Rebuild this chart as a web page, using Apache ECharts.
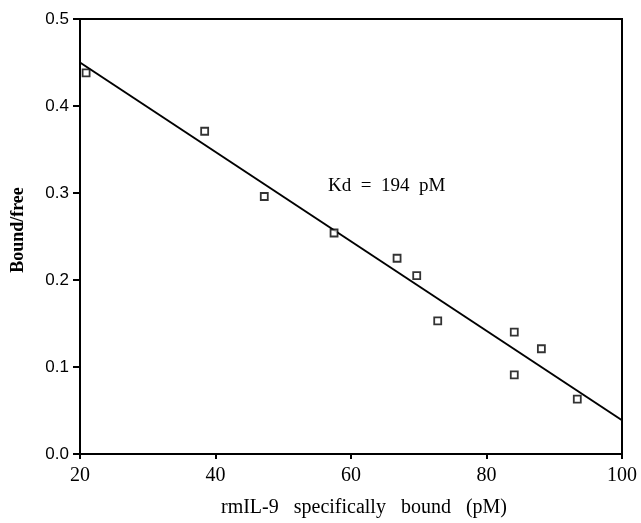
<!DOCTYPE html>
<html>
<head>
<meta charset="utf-8">
<script src="https://cdn.jsdelivr.net/npm/echarts@6/dist/echarts.min.js"></script>
<style>html,body{margin:0;padding:0;background:#fff}#c{width:641px;height:523px}</style>
</head>
<body>
<div id="c"></div>
<script>
var xValues = [20.9, 38.4, 47.2, 57.5, 66.8, 69.7, 72.8, 84.1, 88.1, 84.1, 93.4];
var yValues = [0.438, 0.371, 0.296, 0.254, 0.225, 0.205, 0.153, 0.140, 0.121, 0.091, 0.063];
var fitX = [20, 100];
var fitY = [0.450, 0.0388];
var xTicks = [20, 40, 60, 80, 100];
var yTicks = [0.0, 0.1, 0.2, 0.3, 0.4, 0.5];
var annotation = 'Kd  =  194  pM';
var xTitle = 'rmIL-9   specifically   bound   (pM)';
var yTitle = 'Bound/free';

var pts = xValues.map(function (x, i) { return [x, yValues[i]]; });
var fit = fitX.map(function (x, i) { return [x, fitY[i]]; });

var chart = echarts.init(document.getElementById('c'));
chart.setOption({
  animation: false,
  backgroundColor: '#fff',
  grid: { left: 80, right: 19, top: 19, bottom: 69, show: true, borderColor: '#000', borderWidth: 2,
          containLabel: false, outerBoundsMode: 'none' },
  xAxis: {
    type: 'value', min: 20, max: 100, interval: 20,
    axisLine: { show: true, onZero: false, lineStyle: { color: '#000', width: 2 } },
    axisTick: { show: true, length: 5, lineStyle: { color: '#000', width: 2 } },
    axisLabel: { color: '#000', fontFamily: 'Liberation Serif', fontSize: 20, margin: 12,
      formatter: function (v) { return xTicks.indexOf(v) >= 0 ? String(v) : ''; } },
    splitLine: { show: false },
    name: xTitle, nameLocation: 'middle', nameGap: 44,
    nameTextStyle: { color: '#000', fontFamily: 'Liberation Serif', fontSize: 20, padding: [0, 0, 0, 26] }
  },
  yAxis: {
    type: 'value', min: 0, max: 0.5, interval: 0.1,
    axisLine: { show: true, lineStyle: { color: '#000', width: 2 } },
    axisTick: { show: true, length: 7, lineStyle: { color: '#000', width: 2 } },
    axisLabel: { color: '#000', fontFamily: 'Liberation Sans', fontSize: 17, margin: 11,
      formatter: function (v) { return v.toFixed(1); } },
    splitLine: { show: false }
  },
  series: [
    {
      type: 'line', data: fit, symbol: 'none',
      lineStyle: { color: '#000', width: 2 }, z: 2
    },
    {
      type: 'scatter', data: pts, symbol: 'rect', symbolSize: 7,
      itemStyle: { color: '#fff', borderColor: '#000', borderWidth: 1.8 }, z: 3
    }
  ],
  graphic: [
    { type: 'text', left: 328, top: 177,
      style: { text: annotation, fill: '#000', font: '19px "Liberation Serif"' } },
    { type: 'text', x: 18, y: 230, rotation: Math.PI / 2,
      style: { text: yTitle, fill: '#000', font: 'bold 18px "Liberation Serif"', align: 'center', verticalAlign: 'middle' } }
  ]
});
</script>
</body>
</html>
